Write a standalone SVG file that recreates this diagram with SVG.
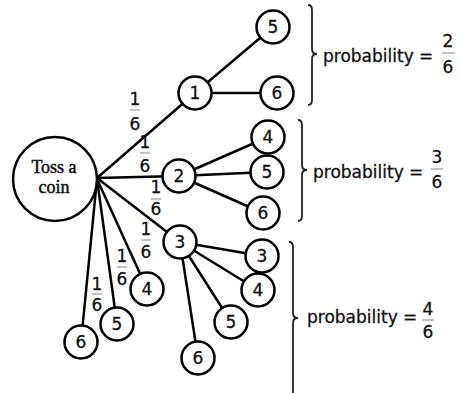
<svg xmlns="http://www.w3.org/2000/svg" width="461" height="393" viewBox="0 0 461 393">
<style>
.edge{stroke:#000;stroke-width:2.5;fill:none;stroke-linecap:round}
.node circle{fill:#fff;stroke:#000;stroke-width:2.5}
.num{font-family:"DejaVu Sans","Verdana",sans-serif;font-size:17px;fill:#111;stroke:#111;stroke-width:0.3;text-anchor:middle}
.root{font-family:"Liberation Serif","Times New Roman",serif;font-size:18px;fill:#111;stroke:#111;stroke-width:0.5;text-anchor:middle}
.bar{stroke:#999;stroke-width:1.2}
.brace{stroke:#222;stroke-width:1.8;fill:none}
.prob{font-family:"DejaVu Sans","Verdana",sans-serif;font-size:17px;fill:#111;stroke:#111;stroke-width:0.3}
</style>
<rect width="461" height="393" fill="#fff"/>
<g id="connectors">
<line class="edge" x1="97" y1="178" x2="195" y2="93"/>
<line class="edge" x1="97" y1="178" x2="179" y2="176"/>
<line class="edge" x1="97" y1="178" x2="180" y2="242"/>
<line class="edge" x1="97" y1="179" x2="147" y2="289"/>
<line class="edge" x1="97" y1="179" x2="117" y2="324"/>
<line class="edge" x1="97" y1="179" x2="81" y2="342"/>
<line class="edge" x1="195" y1="93" x2="273" y2="27"/>
<line class="edge" x1="195" y1="93" x2="277" y2="93"/>
<line class="edge" x1="179" y1="176" x2="268" y2="137"/>
<line class="edge" x1="179" y1="176" x2="267" y2="172"/>
<line class="edge" x1="179" y1="176" x2="263" y2="213"/>
<line class="edge" x1="180" y1="242" x2="262" y2="256"/>
<line class="edge" x1="180" y1="242" x2="258" y2="290"/>
<line class="edge" x1="180" y1="242" x2="231" y2="322"/>
<line class="edge" x1="180" y1="242" x2="198" y2="358"/>
</g>
<g id="root" class="node"><circle cx="55" cy="179" r="42"/><text class="root" x="54" y="173">Toss a</text><text class="root" x="54" y="193">coin</text></g>
<g id="n1" class="node"><circle cx="195" cy="93" r="16.5"/><text class="num" x="195" y="99">1</text></g>
<g id="n2" class="node"><circle cx="179" cy="176" r="16.5"/><text class="num" x="179" y="182">2</text></g>
<g id="n3" class="node"><circle cx="180" cy="242" r="16.5"/><text class="num" x="180" y="248">3</text></g>
<g id="n4" class="node"><circle cx="147" cy="289" r="16.5"/><text class="num" x="147" y="295">4</text></g>
<g id="n5" class="node"><circle cx="117" cy="324" r="16.5"/><text class="num" x="117" y="330">5</text></g>
<g id="n6" class="node"><circle cx="81" cy="342" r="16.5"/><text class="num" x="81" y="348">6</text></g>
<g id="n1-5" class="node"><circle cx="273" cy="27" r="16.5"/><text class="num" x="273" y="33">5</text></g>
<g id="n1-6" class="node"><circle cx="277" cy="93" r="16.5"/><text class="num" x="277" y="99">6</text></g>
<g id="n2-4" class="node"><circle cx="268" cy="137" r="16.5"/><text class="num" x="268" y="143">4</text></g>
<g id="n2-5" class="node"><circle cx="267" cy="172" r="16.5"/><text class="num" x="267" y="178">5</text></g>
<g id="n2-6" class="node"><circle cx="263" cy="213" r="16.5"/><text class="num" x="263" y="219">6</text></g>
<g id="n3-3" class="node"><circle cx="262" cy="256" r="16.5"/><text class="num" x="262" y="262">3</text></g>
<g id="n3-4" class="node"><circle cx="258" cy="290" r="16.5"/><text class="num" x="258" y="296">4</text></g>
<g id="n3-5" class="node"><circle cx="231" cy="322" r="16.5"/><text class="num" x="231" y="328">5</text></g>
<g id="n3-6" class="node"><circle cx="198" cy="358" r="16.5"/><text class="num" x="198" y="364">6</text></g>
<g id="edge-labels">
<text class="num" x="135" y="105">1</text><line class="bar" x1="130" y1="110" x2="140" y2="110"/><text class="num" x="135" y="130">6</text>
<text class="num" x="145" y="148">1</text><line class="bar" x1="140" y1="153" x2="150" y2="153"/><text class="num" x="145" y="172">6</text>
<text class="num" x="156" y="193">1</text><line class="bar" x1="151" y1="199" x2="161" y2="199"/><text class="num" x="156" y="215">6</text>
<text class="num" x="146" y="235">1</text><line class="bar" x1="141" y1="240" x2="151" y2="240"/><text class="num" x="146" y="258">6</text>
<text class="num" x="122" y="262">1</text><line class="bar" x1="117" y1="267" x2="127" y2="267"/><text class="num" x="122" y="285">6</text>
<text class="num" x="97" y="290">1</text><line class="bar" x1="92" y1="294" x2="102" y2="294"/><text class="num" x="97" y="311">6</text>
</g>
<g id="bracket1">
<path class="brace" d="M308 5 Q312 5 312 10 L312 49 Q312 54 317 54 Q312 54 312 59 L312 100 Q312 105 308 105"/>
<text class="prob" x="323" y="62">probability =</text>
<text class="num" x="448" y="47">2</text><line class="bar" x1="442" y1="53" x2="455" y2="53"/><text class="num" x="448" y="73">6</text>
</g>
<g id="bracket2">
<path class="brace" d="M298 120 Q302 120 302 125 L302 165 Q302 170 307 170 Q302 170 302 175 L302 216 Q302 221 298 221"/>
<text class="prob" x="313" y="178">probability =</text>
<text class="num" x="437" y="163">3</text><line class="bar" x1="431" y1="169" x2="443" y2="169"/><text class="num" x="437" y="188">6</text>
</g>
<g id="bracket3">
<path class="brace" d="M289 242 Q293 242 293 247 L293 313 Q293 318 298 318 Q293 318 293 323 L293 393"/>
<text class="prob" x="307" y="323">probability =</text>
<text class="num" x="428" y="315">4</text><line class="bar" x1="422" y1="320" x2="434" y2="320"/><text class="num" x="428" y="338">6</text>
</g>
</svg>
